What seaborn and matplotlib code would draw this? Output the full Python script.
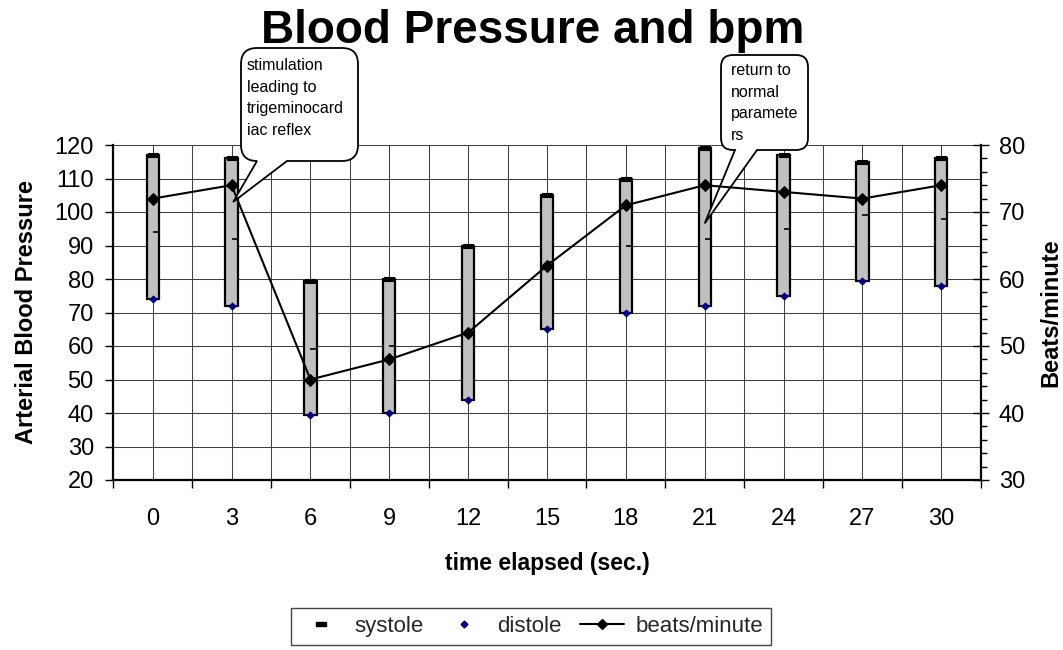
import numpy as np
import pandas as pd
import matplotlib
matplotlib.use("Agg")
import matplotlib.pyplot as plt
import seaborn as sns
from matplotlib.path import Path
from matplotlib.patches import PathPatch
from matplotlib.lines import Line2D
from matplotlib.ticker import MultipleLocator, FixedLocator
from matplotlib.transforms import IdentityTransform

# ---------------- data ----------------
time_labels = ["0", "3", "6", "9", "12", "15", "18", "21", "24", "27", "30"]
systole = [117, 116, 79.5, 80, 90, 105, 110, 119, 117, 115, 116]
distole = [74, 72, 39.3, 40, 44, 65, 70, 72, 75, 79.3, 78]
close_mark = [94, 92, 59, 60, 64, 85, 90, 92, 95, 99, 98]
bpm = [72, 74, 45, 48, 52, 62, 71, 74, 73, 72, 74]

callout1_text = "stimulation\nleading to\ntrigeminocard\niac reflex"
callout2_text = "return to\nnormal\nparamete\nrs"

# ---------------- style ----------------
sns.set_theme(style="white")
plt.rcParams["font.family"] = ["Liberation Sans", "DejaVu Sans"]

W, H = 1063, 650
fig = plt.figure(figsize=(W / 100, H / 100), dpi=100)
fig.patch.set_facecolor("white")

ax_l, ax_r, ax_t, ax_b = 113.3, 980.7, 145, 480
ax = fig.add_axes([ax_l / W, 1 - ax_b / H, (ax_r - ax_l) / W, (ax_b - ax_t) / H])
ax.set_zorder(0)

pos = np.arange(len(time_labels))
df = pd.DataFrame({
    "time": time_labels,
    "pos": pos,
    "systole": systole,
    "distole": distole,
    "span": np.array(systole) - np.array(distole),
    "close": close_mark,
    "bpm": bpm,
})

# floating bars from distole to systole
sns.barplot(data=df, x="time", y="span", bottom=df["distole"].to_numpy(),
            order=time_labels, color="#C0C0C0", saturation=1, width=0.155,
            edgecolor="black", linewidth=1.6, errorbar=None, ax=ax, zorder=2)

# systole markers (small black rectangle)
rect_marker = Path([(-1, -0.38), (1, -0.38), (1, 0.38), (-1, 0.38), (-1, -0.38)],
                   [Path.MOVETO, Path.LINETO, Path.LINETO, Path.LINETO, Path.CLOSEPOLY])
sns.scatterplot(data=df, x="pos", y="systole", marker=rect_marker, s=50,
                color="black", edgecolor="black", linewidth=0.8, ax=ax,
                zorder=4, legend=False)
# distole markers (small navy diamond)
sns.scatterplot(data=df, x="pos", y="distole", marker="D", s=14,
                color="#000080", edgecolor="#000080", linewidth=0.5, ax=ax,
                zorder=4, legend=False)
# small right ticks
ax.plot(df["pos"], df["close"], linestyle="none", marker=1, markersize=4,
        markeredgewidth=1.2, color="black", zorder=4)

ax.set_xlim(-0.5, len(time_labels) - 0.5)
ax.set_ylim(20, 120)
ax.set_yticks(np.arange(20, 121, 10))
ax.set_xticks(pos)
ax.set_xticklabels(time_labels)
ax.xaxis.set_minor_locator(FixedLocator(np.arange(-0.5, len(time_labels), 1.0)))

ax.tick_params(axis="x", which="major", length=0, pad=20, labelsize=17,
               labelcolor="black")
ax.tick_params(axis="x", which="minor", bottom=True, length=6, width=1,
               direction="out", color="black")
ax.tick_params(axis="y", which="major", left=True, length=6, width=1,
               direction="out", color="black", pad=8, labelsize=17,
               labelcolor="black")

ax.set_axisbelow(True)
ax.grid(True, which="both", axis="x", color="#404040", linewidth=0.75)
ax.grid(True, which="major", axis="y", color="#404040", linewidth=0.75)

for s in ["left", "bottom"]:
    ax.spines[s].set_color("black")
    ax.spines[s].set_linewidth(1.6)
ax.spines["top"].set_visible(False)
ax.spines["right"].set_visible(False)

ax.set_xlabel("time elapsed (sec.)", fontsize=16.5, fontweight="bold",
              labelpad=16, color="black")
ax.set_ylabel("Arterial Blood Pressure", fontsize=17, fontweight="bold",
              labelpad=12, color="black")

# ---------------- beats/minute on secondary axis ----------------
ax2 = ax.twinx()
ax2.set_zorder(2)
ax2.patch.set_visible(False)
sns.lineplot(data=df, x="pos", y="bpm", color="black", marker="D",
             markersize=6.5, markeredgecolor="black", linewidth=1.5,
             ax=ax2, legend=False)
ax2.set_ylim(30, 80)
ax2.set_yticks(np.arange(30, 81, 10))
ax2.yaxis.set_minor_locator(MultipleLocator(2))
ax2.tick_params(axis="y", which="major", right=True, direction="inout",
                length=12, width=1, color="black", labelsize=17, pad=7,
                labelcolor="black")
ax2.tick_params(axis="y", which="minor", right=True, direction="out",
                length=4.5, width=1, color="black")
for s in ["left", "top", "bottom"]:
    ax2.spines[s].set_visible(False)
ax2.spines["right"].set_color("black")
ax2.spines["right"].set_linewidth(1.6)
ax2.set_xlim(-0.5, len(time_labels) - 0.5)
ax2.set_xlabel("")
ax2.set_ylabel("Beats/minute", fontsize=17, fontweight="bold", labelpad=10,
               color="black")

# ---------------- title ----------------
fig.text(533 / W, 1 - 43 / H, "Blood Pressure and bpm", ha="center",
         va="baseline", fontsize=33, fontweight="bold", color="black",
         zorder=10)

# ---------------- callouts ----------------
def callout(L, T, R, B, r, b1, b2, tip_data, text, tx, ty):
    fig.canvas.draw()
    tip = ax.transData.transform(tip_data)
    tipx, tipy = tip[0], tip[1]
    # convert image coords (y down) to display coords (y up)
    def p(x, y):
        return (x, H - y)
    verts = [p(L + r, T), p(R - r, T), p(R, T), p(R, T + r), p(R, B - r),
             p(R, B), p(R - r, B), p(b2, B), (tipx, tipy), p(b1, B),
             p(L + r, B), p(L, B), p(L, B - r), p(L, T + r), p(L, T),
             p(L + r, T), p(L + r, T)]
    codes = [Path.MOVETO, Path.LINETO, Path.CURVE3, Path.CURVE3, Path.LINETO,
             Path.CURVE3, Path.CURVE3, Path.LINETO, Path.LINETO, Path.LINETO,
             Path.LINETO, Path.CURVE3, Path.CURVE3, Path.LINETO, Path.CURVE3,
             Path.CURVE3, Path.CLOSEPOLY]
    patch = PathPatch(Path(verts, codes), facecolor="white", edgecolor="black",
                      linewidth=1.3, transform=IdentityTransform(), zorder=1)
    fig.add_artist(patch)
    fig.text(tx / W, 1 - ty / H, text, ha="left", va="top", fontsize=11.5,
             linespacing=1.55, color="black", zorder=1.5)

callout(241, 48, 358, 161, 16, 257, 287, (1.02, 103), callout1_text, 247, 58)
callout(721, 55, 808, 150, 12, 735, 757, (7.0, 96.6), callout2_text, 731, 63)

# ---------------- legend ----------------
handles = [
    Line2D([], [], linestyle="none", marker=rect_marker, markersize=7,
           color="black"),
    Line2D([], [], linestyle="none", marker="D", markersize=3.5,
           color="#000080"),
    Line2D([], [], color="black", linewidth=1.5, marker="D", markersize=5),
]
labels = ["systole", "distole", "beats/minute"]
leg = fig.legend(handles, labels, loc="upper center",
                 bbox_to_anchor=(531 / W, 1 - 608 / H), ncol=3, frameon=True,
                 fancybox=False, fontsize=16, handlelength=2.0,
                 handletextpad=0.5, columnspacing=0.8, borderpad=0.35,
                 borderaxespad=0)
leg.get_frame().set_edgecolor("#444444")
leg.get_frame().set_linewidth(1.0)
leg.get_frame().set_alpha(1)
leg.set_zorder(10)

fig.savefig("out.png", dpi=100, facecolor="white")
